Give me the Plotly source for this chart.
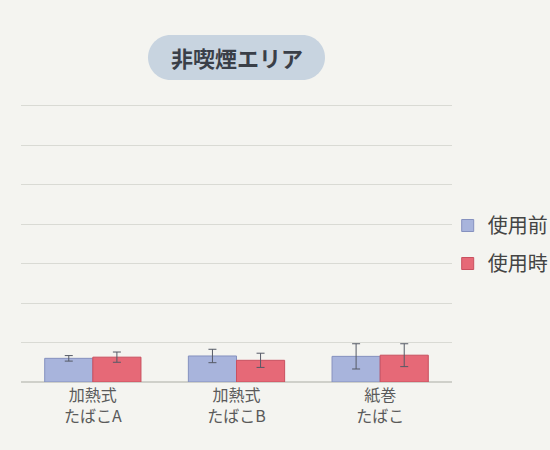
import plotly.graph_objects as go

categories = ["加熱式<br>たばこA", "加熱式<br>たばこB", "紙巻<br>たばこ"]
before_vals = [0.60, 0.66, 0.65]
before_err = [0.07, 0.17, 0.32]
during_vals = [0.63, 0.55, 0.68]
during_err = [0.13, 0.18, 0.29]
series_names = ["使用前", "使用時"]
title_text = "非喫煙エリア"

FONT = "Noto Sans CJK JP"
BG = "#f4f4f0"

fig = go.Figure()
fig.add_trace(go.Bar(
    x=categories, y=before_vals, name=series_names[0], legendgroup="a",
    marker=dict(color="#a8b4dc", line=dict(color="#8591bf", width=1)),
    error_y=dict(type="data", array=before_err, color="#555a66", thickness=1, width=4),
))
fig.add_trace(go.Bar(
    x=categories, y=during_vals, name=series_names[1], legendgroup="b",
    marker=dict(color="#e66977", line=dict(color="#c9505f", width=1)),
    error_y=dict(type="data", array=during_err, color="#555a66", thickness=1, width=4),
))

r = 22.5
w = 66
k = 0.5523 * r
path = (f"M {-w},{-r} L {w},{-r} "
        f"C {w+k},{-r} {w+r},{-k} {w+r},0 "
        f"C {w+r},{k} {w+k},{r} {w},{r} "
        f"L {-w},{r} "
        f"C {-w-k},{r} {-w-r},{k} {-w-r},0 "
        f"C {-w-r},{-k} {-w-k},{-r} {-w},{-r} Z")

plot_h = 278
xa = (236.5 - 21) / 431
ya = (382 - 57.5) / plot_h

fig.update_layout(
    width=550, height=450,
    margin=dict(l=21, r=98, t=450 - 68 - plot_h, b=68, autoexpand=False),
    paper_bgcolor=BG, plot_bgcolor=BG,
    barmode="group", bargap=0.33, bargroupgap=0,
    font=dict(family=FONT, color="#555555"),
    showlegend=True,
    legend=dict(x=0.99, y=(382 - 244.5) / plot_h, xanchor="left", yanchor="middle",
                font=dict(size=20, color="#444444", family=FONT),
                tracegroupgap=9, itemwidth=30, bgcolor="rgba(0,0,0,0)"),
    xaxis=dict(showgrid=False, tickfont=dict(size=16, color="#5a5a5a"), ticks="",
               showline=False, zeroline=False, ticklabelstandoff=2),
    yaxis=dict(range=[0, 7.05], dtick=1, showticklabels=False, gridcolor="#d9dad4",
               gridwidth=1, zeroline=True, zerolinecolor="#cfd0ca", showline=False),
    shapes=[dict(type="path", xref="paper", yref="paper", xsizemode="pixel", ysizemode="pixel",
                 xanchor=xa, yanchor=ya, path=path, fillcolor="#c8d4e0",
                 line=dict(color="#c8d4e0", width=0), layer="above")],
    annotations=[dict(text="<b>" + title_text + "</b>", x=xa, y=ya, xref="paper", yref="paper",
                      showarrow=False, xanchor="center", yanchor="middle",
                      font=dict(size=22, color="#3a3f48", family=FONT))],
)

fig.write_html("out.html", config={"displayModeBar": False},
               post_script="document.body.style.margin='0';document.body.style.background='" + BG + "';")
